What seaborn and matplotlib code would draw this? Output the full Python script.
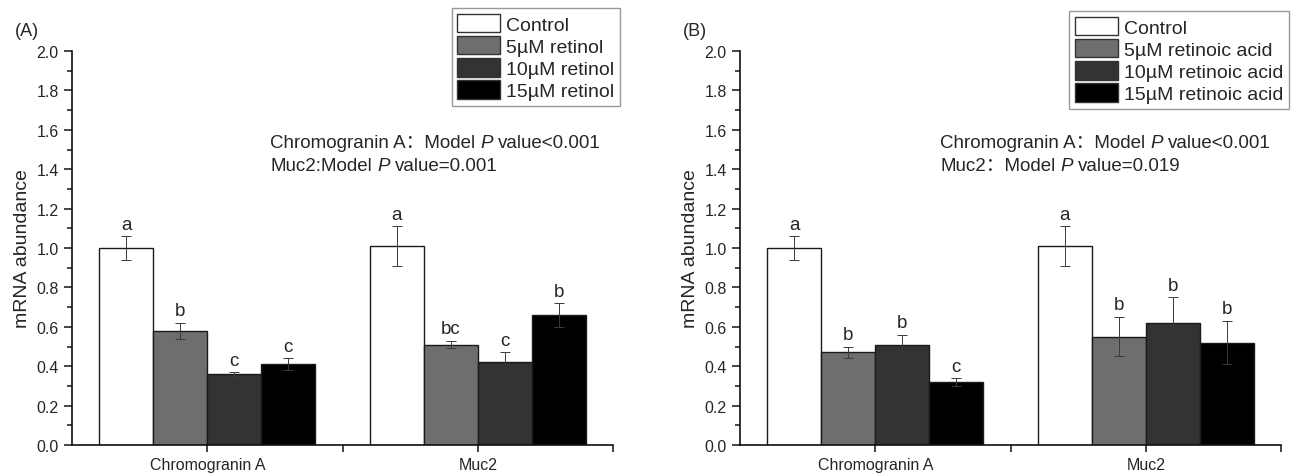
import matplotlib
matplotlib.use("Agg")
import matplotlib.pyplot as plt
from matplotlib.patches import Patch
from matplotlib.ticker import MultipleLocator, FixedLocator
import seaborn as sns
import pandas as pd

# ---------------- data ----------------
genes = ["Chromogranin A", "Muc2"]
retinol_labels = ["Control", "5µM retinol", "10µM retinol", "15µM retinol"]
retinol_means = [[1.00, 1.01], [0.58, 0.51], [0.36, 0.42], [0.41, 0.66]]
retinol_errors = [[0.06, 0.10], [0.04, 0.02], [0.01, 0.05], [0.03, 0.06]]
retinol_letters = [["a", "a"], ["b", "bc"], ["c", "c"], ["c", "b"]]

ra_labels = ["Control", "5µM retinoic acid", "10µM retinoic acid", "15µM retinoic acid"]
ra_means = [[1.00, 1.01], [0.47, 0.55], [0.51, 0.62], [0.32, 0.52]]
ra_errors = [[0.06, 0.10], [0.03, 0.10], [0.05, 0.13], [0.02, 0.11]]
ra_letters = [["a", "a"], ["b", "b"], ["b", "b"], ["c", "b"]]

# each note line: (text before italic P, text after)
panel_a_notes = [("Chromogranin A：Model", "value<0.001"),
                 ("Muc2:Model", "value=0.001")]
panel_b_notes = [("Chromogranin A：Model", "value<0.001"),
                 ("Muc2：Model", "value=0.019")]

yticks = [0.0, 0.2, 0.4, 0.6, 0.8, 1.0, 1.2, 1.4, 1.6, 1.8, 2.0]
bar_colors = ["#ffffff", "#6e6e6e", "#333333", "#000000"]

# ---------------- style ----------------
sns.set_style("ticks")
FAMILY = ["Liberation Sans", "Noto Sans CJK SC", "DejaVu Sans"]
plt.rcParams["font.family"] = FAMILY

W, H = 1295, 477
fig = plt.figure(figsize=(W / 100, H / 100), dpi=100)
renderer = fig.canvas.get_renderer()
NOTE_FS = 13.5


def px(x, y):
    return x / W, 1 - y / H


def note_line(x, y, before, after):
    """Write 'before P after' with an italic P, baseline aligned at pixel y."""
    space = 0.278 * NOTE_FS * 100 / 72
    t1 = fig.text(*px(x, y), before, fontsize=NOTE_FS, ha="left", va="baseline")
    x1 = t1.get_window_extent(renderer).x1 + space
    t2 = fig.text(x1 / W, 1 - y / H, "P", fontsize=NOTE_FS, style="italic",
                  ha="left", va="baseline")
    x2 = t2.get_window_extent(renderer).x1 + space
    fig.text(x2 / W, 1 - y / H, after, fontsize=NOTE_FS, ha="left", va="baseline")


def draw_panel(ax, labels, means, errors, letters, notes, tag, legend_anchor,
               note_x, tag_x):
    rows = []
    for t, lab in enumerate(labels):
        for g, gene in enumerate(genes):
            rows.append({"gene": gene, "treatment": lab, "value": means[t][g]})
    df = pd.DataFrame(rows)
    sns.barplot(data=df, x="gene", y="value", hue="treatment",
                order=genes, hue_order=labels,
                palette=bar_colors, errorbar=None, width=0.8,
                edgecolor="#1a1a1a", linewidth=1.0, saturation=1,
                legend=False, ax=ax)

    bar_containers = list(ax.containers)
    for t, container in enumerate(bar_containers):
        for g, bar in enumerate(container.patches):
            xc = bar.get_x() + bar.get_width() / 2
            m = means[t][g]
            e = errors[t][g]
            ax.errorbar(xc, m, yerr=e, fmt="none", ecolor="#3a3a3a",
                        elinewidth=0.7, capsize=3.5, capthick=0.7, zorder=3)
            ax.annotate(letters[t][g], (xc, m + e), xytext=(0, 2.5),
                        textcoords="offset points", ha="center", va="bottom",
                        fontsize=13.5)

    ax.set_ylim(0, 2.0)
    ax.set_xlim(-0.5, 1.5)
    ax.set_yticks(yticks)
    ax.set_yticklabels([f"{v:.1f}" for v in yticks], fontsize=11.5)
    ax.yaxis.set_minor_locator(MultipleLocator(0.1))
    ax.set_xticks([0, 1])
    ax.set_xticklabels(genes, fontsize=11.5)
    ax.xaxis.set_minor_locator(FixedLocator([0.5, 1.5]))
    ax.tick_params(axis="y", which="major", direction="out", length=6, width=1.2)
    ax.tick_params(axis="y", which="minor", direction="out", length=3.5, width=1.2)
    ax.tick_params(axis="x", which="both", direction="out", length=5, width=1.2)
    ax.set_xlabel("")
    ax.set_ylabel("mRNA abundance", fontsize=14, labelpad=4)
    sns.despine(ax=ax)
    for s in ("left", "bottom"):
        ax.spines[s].set_linewidth(1.2)
        ax.spines[s].set_color("#111111")

    handles = [Patch(facecolor=c, edgecolor="#333333", linewidth=1.0)
               for c in bar_colors]
    leg = ax.legend(handles, labels, loc="upper right",
                    bbox_to_anchor=px(*legend_anchor),
                    bbox_transform=fig.transFigure,
                    fontsize=14, frameon=True, fancybox=False,
                    edgecolor="#999999", framealpha=1,
                    handlelength=2.2, handleheight=1.08, handletextpad=0.3,
                    labelspacing=0.12, borderpad=0.3, borderaxespad=0)
    leg.get_frame().set_linewidth(1.0)

    note_line(note_x, 148, *notes[0])
    note_line(note_x, 171, *notes[1])
    fig.text(*px(tag_x, 32), tag, fontsize=13, ha="left", va="center")


axA = fig.add_axes([72 / W, 31 / H, 541 / W, 394 / H])
axB = fig.add_axes([740 / W, 31 / H, 541 / W, 394 / H])

draw_panel(axA, retinol_labels, retinol_means, retinol_errors, retinol_letters,
           panel_a_notes, "(A)", (620, 9), 270, 15)
draw_panel(axB, ra_labels, ra_means, ra_errors, ra_letters,
           panel_b_notes, "(B)", (1289, 12), 940, 683)

fig.savefig("out.png", dpi=100, facecolor="white")
